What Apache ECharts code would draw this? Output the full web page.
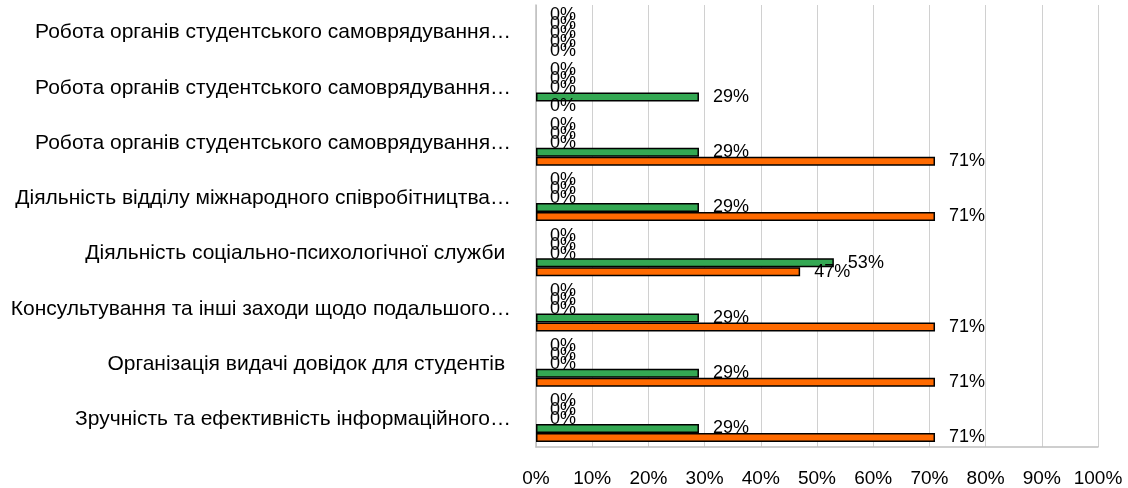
<!DOCTYPE html>
<html>
<head>
<meta charset="utf-8">
<script src="https://cdn.jsdelivr.net/npm/echarts@6/dist/echarts.min.js"></script>
<style>html,body{margin:0;padding:0;background:#fff}#c{width:1128px;height:488px}</style>
</head>
<body>
<div id="c"></div>
<script>
// Categories from bottom to top (ECharts y category axis starts at the bottom)
var categories = [
  'Зручність та ефективність інформаційного…',
  'Організація видачі довідок для студентів ',
  'Консультування та інші заходи щодо подальшого…',
  'Діяльність соціально-психологічної служби ',
  'Діяльність відділу міжнародного співробітництва…',
  'Робота органів студентського самоврядування…',
  'Робота органів студентського самоврядування…',
  'Робота органів студентського самоврядування…'
];
var seriesA = [0, 0, 0, 0, 0, 0, 0, 0];
var seriesB = [0, 0, 0, 0, 0, 0, 0, 0];
var seriesC = [0, 0, 0, 0, 0, 0, 0, 0];
var seriesGreen = [29, 29, 29, 53, 29, 29, 29, 0];
var seriesOrange = [71, 71, 71, 47, 71, 71, 0, 0];
var xTicks = [0, 10, 20, 30, 40, 50, 60, 70, 80, 90, 100];

var FONT = 'Liberation Sans';
function mk(name, data, color) {
  return {
    name: name, type: 'bar',
    data: data.map(function (v) {
      return v === 0 ? { value: v, itemStyle: { borderWidth: 0 } } : v;
    }),
    barWidth: 9, barGap: '0%',
    itemStyle: { color: color, borderColor: '#000', borderWidth: 1.5 },
    label: { show: true, position: 'right', distance: 14, formatter: '{c}%',
             color: '#000', fontFamily: FONT, fontSize: 18 }
  };
}
var chart = echarts.init(document.getElementById('c'), null, { renderer: 'canvas' });
chart.setOption({
  animation: false,
  grid: { left: 536, right: 30, top: 5, bottom: 41, containLabel: false },
  xAxis: {
    type: 'value', min: 0, max: 100, interval: 10,
    axisLine: { show: true, lineStyle: { color: '#bfbfbf', width: 1.5 } },
    axisTick: { show: false },
    splitLine: { show: true, lineStyle: { color: '#d0d0d0', width: 1 } },
    axisLabel: { margin: 22, color: '#000', fontFamily: FONT, fontSize: 19,
                 formatter: function (v) { return xTicks.indexOf(v) >= 0 ? v + '%' : ''; } }
  },
  yAxis: {
    type: 'category', data: categories,
    axisLine: { show: true, lineStyle: { color: '#bfbfbf', width: 1.5 } },
    axisTick: { show: false },
    axisLabel: { margin: 25, color: '#000', fontFamily: FONT, fontSize: 21 }
  },
  series: [
    mk('Варіант 1', seriesA, '#4472c4'),
    mk('Варіант 2', seriesB, '#a5a5a5'),
    mk('Варіант 3', seriesC, '#ffc000'),
    mk('Варіант 4', seriesGreen, '#34a853'),
    mk('Варіант 5', seriesOrange, '#ff6a00')
  ]
});
</script>
</body>
</html>
